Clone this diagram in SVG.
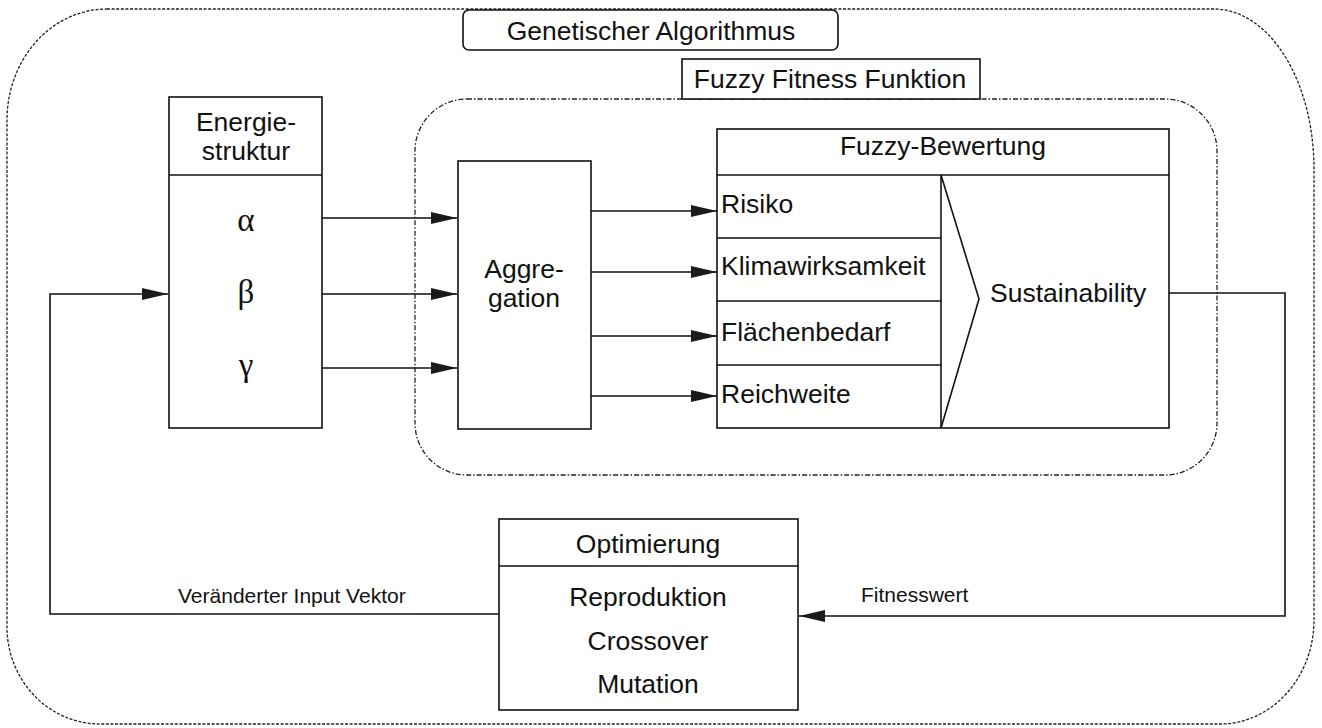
<svg xmlns="http://www.w3.org/2000/svg" width="1322" height="728" viewBox="0 0 1322 728">
  <style>
    .box { fill: #fff; stroke: #111; stroke-width: 1.6; }
    .ln { fill: none; stroke: #111; stroke-width: 1.6; }
    .conn { fill: none; stroke: #111; stroke-width: 1.6; }
    .t { font-family: "Liberation Sans", Arial, sans-serif; font-size: 26.5px; fill: #111; }
    .s { font-family: "Liberation Sans", Arial, sans-serif; font-size: 21px; fill: #111; }
    .g { font-family: "Liberation Serif", "Times New Roman", serif; font-size: 33px; fill: #111; }
    .mid { text-anchor: middle; }
    .outer { fill: none; stroke: #222; stroke-width: 1.3; stroke-dasharray: 3 1.6; }
    .inner { fill: none; stroke: #222; stroke-width: 1.3; stroke-dasharray: 5 2 1.5 2; }
  </style>
  <defs>
    <marker id="arrow" viewBox="0 0 26 12" refX="26" refY="6" markerWidth="26" markerHeight="12" markerUnits="userSpaceOnUse" orient="auto">
      <path d="M0 0 L26 6 L0 12 Z" fill="#1a1a1a"/>
    </marker>
  </defs>

  <rect width="1322" height="728" fill="#fff"/>

  <!-- outer frame: genetic algorithm -->
  <g id="genetic-algorithm-frame">
    <path class="outer" d="M107 9 L1214 9 A100 160 0 0 1 1314 169 L1314 620 A94 104 0 0 1 1220 724 L100 724 A93 97 0 0 1 7 627 L7 120 A100 111 0 0 1 107 9 Z"/>
  </g>

  <!-- inner frame: fuzzy fitness function -->
  <g id="fuzzy-fitness-frame">
    <rect class="inner" x="415" y="99" width="802" height="376" rx="52" ry="52"/>
  </g>

  <g id="title-ga">
    <rect class="box" x="463" y="10" width="375" height="40" rx="6" ry="6"/>
    <text class="t mid" x="651" y="40">Genetischer Algorithmus</text>
  </g>

  <g id="title-fff">
    <rect class="box" x="682" y="59" width="298" height="40"/>
    <text class="t mid" x="830" y="88">Fuzzy Fitness Funktion</text>
  </g>

  <g id="energiestruktur">
    <rect class="box" x="169" y="97" width="153" height="331"/>
    <line class="ln" x1="169" y1="175" x2="322" y2="175"/>
    <text class="t mid" x="246" y="131">Energie-</text>
    <text class="t mid" x="246" y="160">struktur</text>
    <text class="g mid" x="246" y="231">α</text>
    <text class="g mid" x="246" y="303">β</text>
    <text class="g mid" x="246" y="376">γ</text>
  </g>

  <g id="aggregation">
    <rect class="box" x="458" y="161" width="133" height="268"/>
    <text class="t mid" x="524" y="278">Aggre-</text>
    <text class="t mid" x="524" y="307">gation</text>
  </g>

  <g id="fuzzy-bewertung">
    <rect class="box" x="717" y="129" width="452" height="299"/>
    <line class="ln" x1="717" y1="175" x2="1169" y2="175"/>
    <text class="t mid" x="943" y="155">Fuzzy-Bewertung</text>
    <line class="ln" x1="941" y1="175" x2="941" y2="428"/>
    <line class="ln" x1="717" y1="238" x2="941" y2="238"/>
    <line class="ln" x1="717" y1="301" x2="941" y2="301"/>
    <line class="ln" x1="717" y1="365" x2="941" y2="365"/>
    <polyline class="ln" points="941,175 979,299 941,428"/>
    <text class="t" x="721" y="213">Risiko</text>
    <text class="t" x="721" y="275">Klimawirksamkeit</text>
    <text class="t" x="721" y="341">Flächenbedarf</text>
    <text class="t" x="721" y="403">Reichweite</text>
    <text class="t" x="990" y="302">Sustainability</text>
  </g>

  <g id="optimierung">
    <rect class="box" x="499" y="519" width="299" height="191"/>
    <line class="ln" x1="499" y1="566" x2="798" y2="566"/>
    <text class="t mid" x="648" y="553">Optimierung</text>
    <text class="t mid" x="648" y="606">Reproduktion</text>
    <text class="t mid" x="648" y="650">Crossover</text>
    <text class="t mid" x="648" y="693">Mutation</text>
  </g>

  <g id="connectors">
    <path class="conn" d="M322 218 H457" marker-end="url(#arrow)"/>
    <path class="conn" d="M322 294 H457" marker-end="url(#arrow)"/>
    <path class="conn" d="M322 368 H457" marker-end="url(#arrow)"/>
    <path class="conn" d="M591 211 H717" marker-end="url(#arrow)"/>
    <path class="conn" d="M591 272 H717" marker-end="url(#arrow)"/>
    <path class="conn" d="M591 336 H717" marker-end="url(#arrow)"/>
    <path class="conn" d="M591 396 H717" marker-end="url(#arrow)"/>
    <path class="conn" d="M1169 293 H1285 V616 H799" marker-end="url(#arrow)"/>
    <path class="conn" d="M499 614 H50 V294 H168" marker-end="url(#arrow)"/>
    <text class="s" x="178" y="603">Veränderter Input Vektor</text>
    <text class="s" x="861" y="602">Fitnesswert</text>
  </g>
</svg>
